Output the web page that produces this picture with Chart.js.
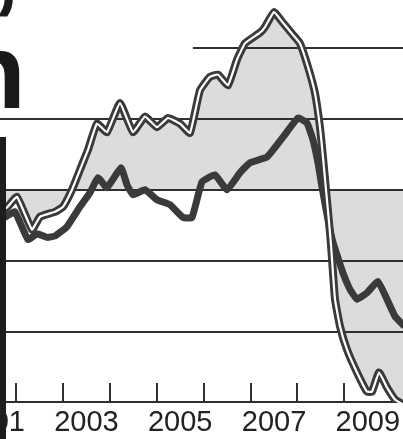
<!DOCTYPE html>
<html>
<head>
<meta charset="utf-8">
<script src="https://cdn.jsdelivr.net/npm/chart.js@4/dist/chart.umd.min.js"></script>
<style>
  html, body { margin: 0; padding: 0; background: #ffffff; }
  canvas { display: block; }
</style>
</head>
<body>
<canvas id="c" width="403" height="439"></canvas>
<script>
// ---- data (years as decimal time, values in axis units) ----
const whiteYears = [2001.657, 2001.806, 2002.019, 2002.339, 2002.510, 2002.829, 2003.000, 2003.192,
  2003.362, 2003.533, 2003.725, 2003.938, 2004.215, 2004.493, 2004.748, 2005.004, 2005.239, 2005.495,
  2005.708, 2005.921, 2006.134, 2006.305, 2006.518, 2006.710, 2006.881, 2007.200, 2007.307, 2007.499,
  2007.691, 2007.904, 2008.053, 2008.224, 2008.373, 2008.480, 2008.544, 2008.608, 2008.672, 2008.714,
  2008.800, 2008.906, 2009.056, 2009.269, 2009.482, 2009.589, 2009.738, 2009.908, 2010.079, 2010.250];
const whiteValues = [-3.2, -2.5, -1.0, -5.6, -3.8, -3.1, -2.4, 0.0,
  2.8, 5.6, 9.3, 8.1, 12.2, 8.1, 10.3, 8.8, 10.1, 9.3,
  8.0, 14.0, 15.9, 16.2, 14.7, 18.3, 20.6, 22.1, 22.9, 25.0,
  23.5, 21.8, 20.6, 17.3, 13.6, 8.8, 4.6, 0.0, -4.5, -7.7,
  -15.4, -19.2, -22.5, -25.7, -28.4, -28.4, -25.7, -27.8, -29.5, -30.2];

const darkYears = [2001.657, 2001.806, 2001.977, 2002.254, 2002.446, 2002.659, 2002.829, 2003.085,
  2003.362, 2003.576, 2003.746, 2003.938, 2004.237, 2004.365, 2004.493, 2004.748, 2005.004, 2005.281,
  2005.559, 2005.750, 2005.964, 2006.241, 2006.497, 2006.774, 2006.987, 2007.350, 2007.691, 2008.011,
  2008.203, 2008.331, 2008.437, 2008.522, 2008.650, 2008.757, 2008.864, 2008.970, 2009.119, 2009.269,
  2009.482, 2009.716, 2009.908, 2010.079, 2010.250];
const darkValues = [-4.2, -3.7, -3.1, -7.0, -6.2, -6.7, -6.5, -5.2,
  -2.4, -0.4, 1.7, 0.3, 3.1, 0.7, -0.7, 0.0, -1.4, -2.1,
  -3.9, -3.9, 1.1, 2.1, 0.0, 2.4, 3.8, 4.6, 7.4, 10.1,
  9.4, 7.0, 3.8, 0.4, -4.2, -7.4, -9.6, -11.7, -14.0, -15.4,
  -14.5, -12.9, -15.4, -17.8, -19.0];

const labelYears = [2001, 2003, 2005, 2007, 2009];
const tickYears = [2002, 2003, 2004, 2005, 2006, 2007, 2008, 2009];
const gridValues = [20, 10, 0, -10, -20];
const fillBase = 0;
const axisMin = -30;
const axisMax = 26.7;
const xMin = 2001.657;
const xMax = 2010.25;
const topGridStart = 2005.77;

const toPoints = (xs, ys) => xs.map((x, i) => ({ x: x, y: ys[i] }));
const whitePts = toPoints(whiteYears, whiteValues);
const darkPts = toPoints(darkYears, darkValues);

const ink = '#2f2f2f';

const decor = {
  id: 'decor',
  beforeDatasetsDraw(chart) {
    const { ctx, chartArea: a, scales: { x, y } } = chart;
    ctx.save();
    ctx.strokeStyle = ink;
    ctx.lineWidth = 2;
    gridValues.forEach(v => {
      const py = Math.round(y.getPixelForValue(v));
      const x0 = v === gridValues[0] ? x.getPixelForValue(topGridStart) : a.left;
      ctx.beginPath(); ctx.moveTo(x0, py); ctx.lineTo(a.right, py); ctx.stroke();
    });
    const by = Math.round(y.getPixelForValue(axisMin)) - 1;
    ctx.beginPath(); ctx.moveTo(a.left, by); ctx.lineTo(a.right, by); ctx.stroke();
    tickYears.forEach(t => {
      const px = Math.round(x.getPixelForValue(t));
      ctx.beginPath(); ctx.moveTo(px, by); ctx.lineTo(px, by - 19); ctx.stroke();
    });
    ctx.restore();
  },
  afterDraw(chart) {
    const { ctx } = chart;
    ctx.save();
    // dark photo edge at left
    ctx.fillStyle = '#1d1d1d';
    ctx.fillRect(0, 137, 6, 302);
    // cropped headline glyphs
    ctx.fillStyle = '#1a1a1a';
    ctx.font = 'bold 106px "Liberation Sans", Arial, sans-serif';
    ctx.textAlign = 'left';
    ctx.textBaseline = 'alphabetic';
    const mn = ctx.measureText('n');
    ctx.fillText('n', 20 - mn.actualBoundingBoxRight, 108);
    const mc = ctx.measureText(',');
    ctx.fillText(',', 13.5 - mc.actualBoundingBoxRight, 17 - mc.actualBoundingBoxDescent);
    ctx.restore();
  }
};

new Chart(document.getElementById('c'), {
  type: 'line',
  data: {
    datasets: [
      { data: whitePts, borderColor: '#ffffff', borderWidth: 2.2, fill: false,
        pointRadius: 0, tension: 0.12, borderJoinStyle: 'round', borderCapStyle: 'round' },
      { data: whitePts, borderColor: '#3a3a3a', borderWidth: 8, fill: { value: fillBase },
        backgroundColor: '#dcdcdc', pointRadius: 0, tension: 0.12, borderJoinStyle: 'round', borderCapStyle: 'round' },
      { data: darkPts, borderColor: '#3a3a3a', borderWidth: 7, fill: false,
        pointRadius: 0, tension: 0.12, borderJoinStyle: 'round', borderCapStyle: 'round' }
    ]
  },
  options: {
    responsive: false,
    devicePixelRatio: 1,
    animation: false,
    layout: { padding: 0 },
    plugins: {
      legend: { display: false },
      tooltip: { enabled: false },
      filler: { propagate: false, drawTime: 'beforeDraw' }
    },
    scales: {
      x: {
        type: 'linear', position: 'bottom', min: xMin, max: xMax,
        grid: { display: false, drawTicks: false },
        border: { display: false },
        afterBuildTicks: s => { s.ticks = labelYears.map(yr => ({ value: yr + 0.5 })); },
        afterFit: s => { s.paddingLeft = 0; s.paddingRight = 0; s.height = 36; },
        ticks: {
          autoSkip: false, maxRotation: 0, minRotation: 0, padding: 3,
          color: '#222222',
          font: { family: '"Liberation Sans", Arial, sans-serif', size: 29, lineHeight: 1.2 },
          callback: v => String(Math.round(v - 0.5))
        }
      },
      y: { display: false, min: axisMin, max: axisMax }
    }
  },
  plugins: [decor]
});
</script>
</body>
</html>
